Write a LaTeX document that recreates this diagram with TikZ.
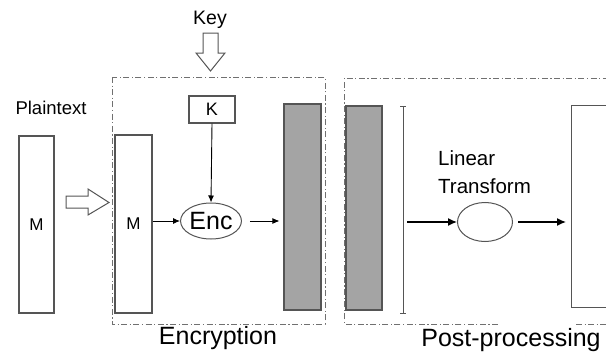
\documentclass[tikz,border=0pt]{standalone}
\usepackage{fontspec}
\setmainfont{Liberation Sans}
\usetikzlibrary{arrows.meta,shapes.geometric}
\definecolor{edge}{HTML}{555555}
\definecolor{dashc}{HTML}{707070}
\definecolor{fillg}{HTML}{A4A4A4}
\tikzset{
  blk/.style={draw=edge, line width=1.1pt, inner sep=0pt},
  whitebar/.style={blk, fill=white},
  graybar/.style={blk, fill=fillg},
  grp/.style={draw=dashc, line width=1pt, dash pattern=on 6pt off 2.5pt on 1.2pt off 2.5pt},
  hollow/.style={draw=edge, line width=1pt, fill=white, line join=miter},
  conn/.style={draw=black, line width=0.9pt, -{Latex[length=7pt,width=6pt]}},
  connb/.style={draw=black, line width=1.4pt, -{Latex[length=9pt,width=8pt]}},
  lbl/.style={inner sep=0pt, text=black},
}
\begin{document}
\begin{tikzpicture}[x=1pt,y=-1pt]
\useasboundingbox (0,0) rectangle (606,356);
% group boxes
\draw[grp] (112,77) rectangle (325,324);
\draw[grp] (498,324) -- (344,324) -- (344,78) -- (625,78);
\draw[grp] (576,324) -- (625,324);
% labels
\node[lbl, font=\fontsize{18.5}{22}\selectfont] (plain) at (51,108) {Plaintext};
\node[lbl, font=\fontsize{19.5}{23}\selectfont] (key) at (210,20) {Key};
\node[lbl, font=\fontsize{25}{30}\selectfont] (enclbl) at (218,338) {Encryption};
\node[lbl, font=\fontsize{25}{30}\selectfont] (postlbl) at (511,340) {Post-processing};
\node[lbl, font=\fontsize{20.5}{28}\selectfont, align=left, anchor=north west] (lt) at (438,150) {Linear\\Transform};
% blocks
\node[whitebar, minimum width=35pt, minimum height=177pt, font=\fontsize{17}{22}\selectfont] (mL) at (36.5,224.5) {M};
\node[whitebar, minimum width=37pt, minimum height=178pt, font=\fontsize{17}{22}\selectfont] (mR) at (133.5,224) {M};
\node[whitebar, minimum width=46pt, minimum height=27pt, font=\fontsize{18}{22}\selectfont] (k) at (212,109.5) {K};
\node[draw=edge, line width=1pt, ellipse, minimum width=56pt, minimum height=36pt, inner sep=0pt, font=\fontsize{25}{28}\selectfont] (enc) at (211,221) {Enc};
\node[graybar, minimum width=37pt, minimum height=206pt] (g1) at (302.5,207) {};
\node[graybar, minimum width=36pt, minimum height=204pt] (g2) at (364,208) {};
\node[draw=edge, line width=1pt, ellipse, minimum width=55pt, minimum height=39pt, inner sep=0pt] (ltf) at (485,222) {};
\node[whitebar, minimum width=60pt, minimum height=202pt, anchor=north west] (out) at (571,105) {};
% bar
\draw[draw=edge, line width=1pt] (400,106) -- (406,106) (403,106) -- (403,313) (400,313) -- (406,313);
\coordinate (barmid) at (407,222);
% hollow arrows
\draw[hollow] (66,196) -- (88,196) -- (88,189) -- (109,202.5) -- (88,215) -- (88,208) -- (66,208) -- cycle;
\draw[hollow] (203,33) -- (218,33) -- (218,53) -- (225,53) -- (210.5,71) -- (196,53) -- (203,53) -- cycle;
% connectors
\draw[conn] (k.south) -- (enc.north);
\draw[conn] (mR.east |- enc.center) -- (enc.west);
\draw[conn, shorten <=8pt, shorten >=4pt] (enc.east) -- (enc.east -| g1.west);
\draw[connb] (barmid) -- (ltf.west);
\draw[connb, shorten <=5pt, shorten >=5pt] (ltf.east) -- (ltf.east -| out.west);
\end{tikzpicture}
\end{document}
